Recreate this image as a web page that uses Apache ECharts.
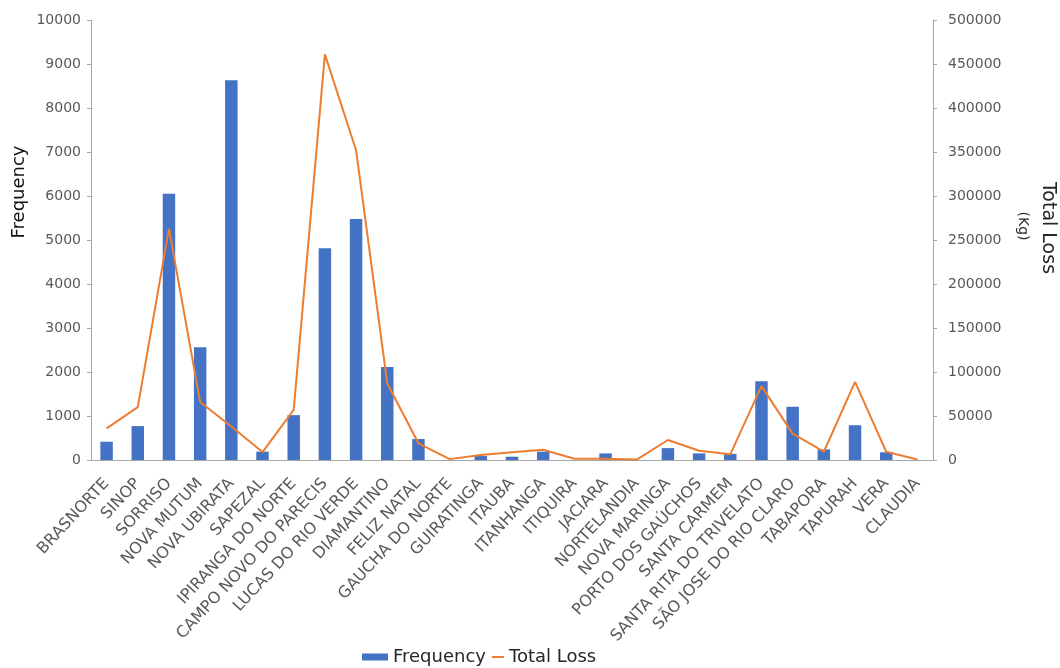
<!DOCTYPE html>
<html>
<head>
<meta charset="utf-8">
<script src="https://cdn.jsdelivr.net/npm/echarts@6/dist/echarts.min.js"></script>
<style>
html,body{margin:0;padding:0;background:#fff;}
#chart{width:1060px;height:668px;}
</style>
</head>
<body>
<div id="chart"></div>
<script>
const categories = ["BRASNORTE","SINOP","SORRISO","NOVA MUTUM","NOVA UBIRATA","SAPEZAL","IPIRANGA DO NORTE","CAMPO NOVO DO PARECIS","LUCAS DO RIO VERDE","DIAMANTINO","FELIZ NATAL","GAUCHA DO NORTE","GUIRATINGA","ITAUBA","ITANHANGA","ITIQUIRA","JACIARA","NORTELANDIA","NOVA MARINGA","PORTO DOS GAÚCHOS","SANTA CARMEM","SANTA RITA DO TRIVELATO","SÃO JOSE DO RIO CLARO","TABAPORA","TAPURAH","VERA","CLAUDIA"];
const frequency = [415, 770, 6050, 2560, 8630, 190, 1020, 4815, 5480, 2116, 476, 0, 90, 75, 190, 0, 150, 0, 270, 150, 140, 1790, 1210, 240, 790, 175, 0];
const totalLoss = [36000, 60000, 263000, 66000, 38000, 9000, 57000, 461000, 352000, 87000, 19000, 1000, 5700, 8700, 11700, 1500, 1500, 500, 22700, 10500, 6400, 84000, 30000, 9400, 88800, 9400, 500];
const leftTicks = {min: 0, max: 10000, interval: 1000};
const rightTicks = {min: 0, max: 500000, interval: 50000};

const FONT = "DejaVu Sans";
const chart = echarts.init(document.getElementById('chart'), null, {renderer: 'canvas'});
const axisGray = '#a6a6a6';
const labelGray = '#595959';
const plain = v => String(v);

chart.setOption({
  animation: false,
  backgroundColor: '#fff',
  grid: {left: 91, right: 127, top: 20, bottom: 208, containLabel: false},
  legend: [
    {data: [{name: 'Frequency', icon: 'rect'}], left: 357, top: 643, itemWidth: 26, itemHeight: 7,
     textStyle: {fontFamily: FONT, fontSize: 18, color: '#262626'}},
    {data: [{name: 'Total Loss', icon: 'rect'}], left: 487, top: 643, itemWidth: 12, itemHeight: 2,
     textStyle: {fontFamily: FONT, fontSize: 18, color: '#262626'}}
  ],
  xAxis: {
    type: 'category', data: categories, boundaryGap: true,
    axisLine: {lineStyle: {color: axisGray, width: 1}},
    axisTick: {show: false},
    axisLabel: {interval: 0, rotate: 47, margin: 21, fontFamily: FONT, fontSize: 16, color: labelGray}
  },
  yAxis: [
    {type: 'value', min: leftTicks.min, max: leftTicks.max, interval: leftTicks.interval,
     splitLine: {show: false},
     axisLine: {show: true, lineStyle: {color: axisGray}},
     axisTick: {show: true, length: 4, lineStyle: {color: axisGray}},
     axisLabel: {margin: 10, fontFamily: FONT, fontSize: 14, color: labelGray, formatter: plain}},
    {type: 'value', min: rightTicks.min, max: rightTicks.max, interval: rightTicks.interval, position: 'right',
     splitLine: {show: false},
     axisLine: {show: true, lineStyle: {color: axisGray}},
     axisTick: {show: true, length: 4, lineStyle: {color: axisGray}},
     axisLabel: {margin: 15, fontFamily: FONT, fontSize: 14, color: labelGray, formatter: plain}}
  ],
  series: [
    {name: 'Frequency', type: 'bar', yAxisIndex: 0, data: frequency, barWidth: '40%',
     itemStyle: {color: '#4472C4'}, z: 2},
    {name: 'Total Loss', type: 'line', yAxisIndex: 1, data: totalLoss, symbol: 'none',
     lineStyle: {color: '#ED7D31', width: 2}, itemStyle: {color: '#ED7D31'}, z: 3}
  ],
  graphic: [
    {type: 'text', x: 19, y: 192, rotation: Math.PI / 2,
     style: {text: 'Frequency', fontFamily: FONT, fontSize: 18, fill: '#111', textAlign: 'center', textVerticalAlign: 'middle'}},
    {type: 'text', x: 1048, y: 228, rotation: -Math.PI / 2,
     style: {text: 'Total Loss', fontFamily: FONT, fontSize: 19, fill: '#262626', textAlign: 'center', textVerticalAlign: 'middle'}},
    {type: 'text', x: 1023, y: 226, rotation: -Math.PI / 2,
     style: {text: '(Kg)', fontFamily: FONT, fontSize: 14, fill: '#262626', textAlign: 'center', textVerticalAlign: 'middle'}}
  ]
});
</script>
</body>
</html>
